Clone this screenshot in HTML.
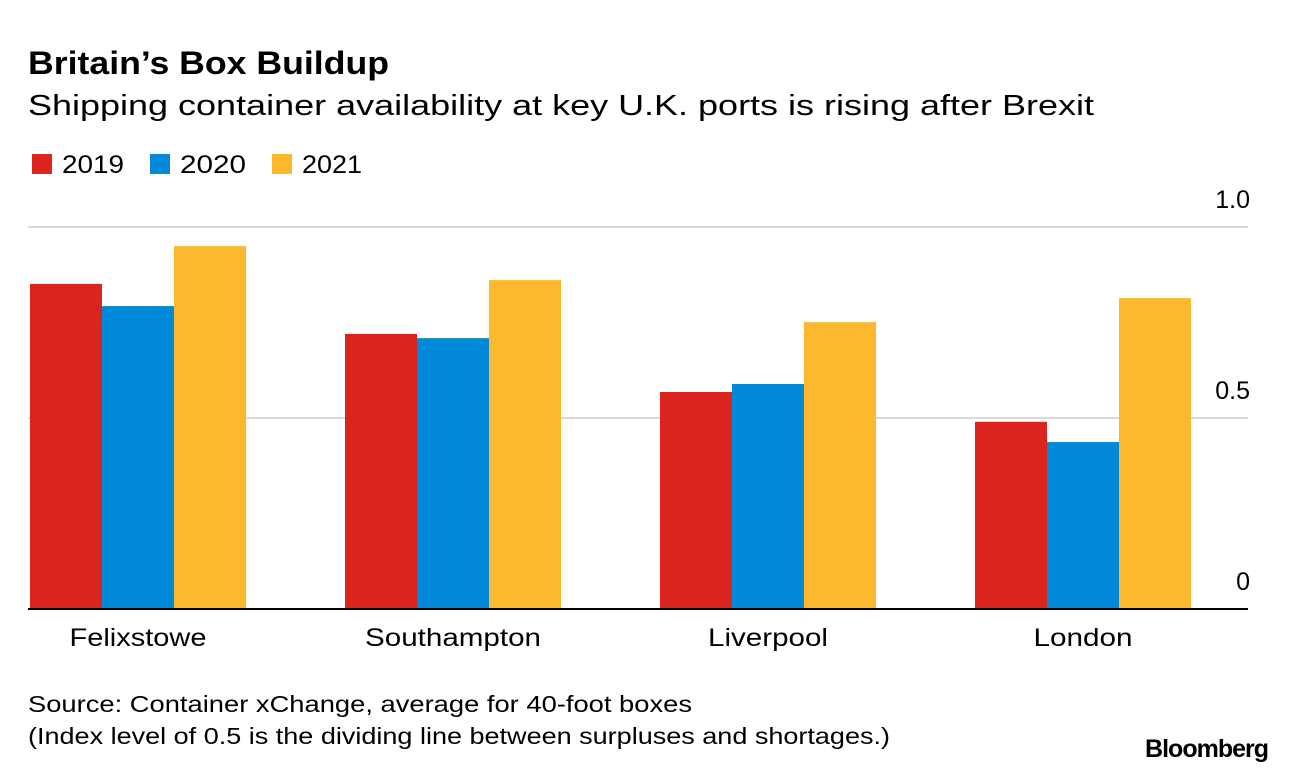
<!DOCTYPE html>
<html><head><meta charset="utf-8"><style>
body{margin:0;background:#fff;font-family:"Liberation Sans",sans-serif;}
svg{display:block}
text{font-family:"Liberation Sans",sans-serif;fill:#000}
</style></head><body>
<svg width="1296" height="774">
<text x="28" y="74" font-size="32" font-weight="bold" textLength="361" lengthAdjust="spacingAndGlyphs">Britain’s Box Buildup</text>
<text x="28" y="115" font-size="29" textLength="1066" lengthAdjust="spacingAndGlyphs">Shipping container availability at key U.K. ports is rising after Brexit</text>
<g>
<rect x="32" y="154" width="20" height="20" fill="#dc241f"/>
<text x="62" y="173" font-size="25" textLength="62" lengthAdjust="spacingAndGlyphs">2019</text>
<rect x="150" y="154" width="20" height="20" fill="#0089d9"/>
<text x="180" y="173" font-size="25" textLength="66" lengthAdjust="spacingAndGlyphs">2020</text>
<rect x="272" y="154" width="20" height="20" fill="#fdb92e"/>
<text x="302" y="173" font-size="25" textLength="60" lengthAdjust="spacingAndGlyphs">2021</text>
</g>
<g id="plot"></g>
<text x="28" y="712" font-size="23" textLength="664" lengthAdjust="spacingAndGlyphs">Source: Container xChange, average for 40-foot boxes</text>
<text x="28" y="744" font-size="23" textLength="862" lengthAdjust="spacingAndGlyphs">(Index level of 0.5 is the dividing line between surpluses and shortages.)</text>
<text x="1268" y="757" font-size="25" font-weight="bold" text-anchor="end" letter-spacing="-1">Bloomberg</text>
</svg>
<script>
const categories=["Felixstowe","Southampton","Liverpool","London"];
const series2019=[0.851,0.72,0.568,0.49];
const series2020=[0.793,0.709,0.589,0.437];
const series2021=[0.95,0.861,0.751,0.814];
const tickValues=[0,0.5,1.0];
const tickLabels=["0","0.5","1.0"];
const seriesNames=["2019","2020","2021"];
const colors=["#dc241f","#0089d9","#fdb92e"];
const labelLen={"Felixstowe":137,"Southampton":176,"Liverpool":120,"London":99};
const NS="http://www.w3.org/2000/svg";
const g=document.getElementById('plot');
const y0=609,y1=227;
const y=v=>y0-(y0-y1)*v;
const x=i=>30+315*i;
const bw=72;
function mk(t,a){const e=document.createElementNS(NS,t);for(const k in a)e.setAttribute(k,a[k]);g.appendChild(e);return e;}
tickValues.forEach((v,i)=>{
  if(v>0){const l=mk('line',{x1:28,x2:1248,y1:y(v),y2:y(v),stroke:'#d9d9d9','stroke-width':2});
  
  }
  const t=mk('text',{x:1250,y:y(v)-19,'font-size':25,'text-anchor':'end'});
  t.textContent=tickLabels[i];
  
  
});
[series2019,series2020,series2021].forEach((s,si)=>{
  s.forEach((v,i)=>{
    const r=mk('rect',{x:x(i)+si*bw,y:y(v),width:bw,height:y0-y(v),fill:colors[si]});
    
    
  });
});
const ax=mk('line',{x1:28,x2:1248,y1:y0,y2:y0,stroke:'#000','stroke-width':2});


categories.forEach((c,i)=>{
  const t=mk('text',{x:x(i)+1.5*bw,y:646,'font-size':25,'text-anchor':'middle'});
  t.setAttribute('textLength',labelLen[c]||c.length*13.7);
  t.setAttribute('lengthAdjust','spacingAndGlyphs');
  t.textContent=c;
  
  
});
</script>
</body></html>
